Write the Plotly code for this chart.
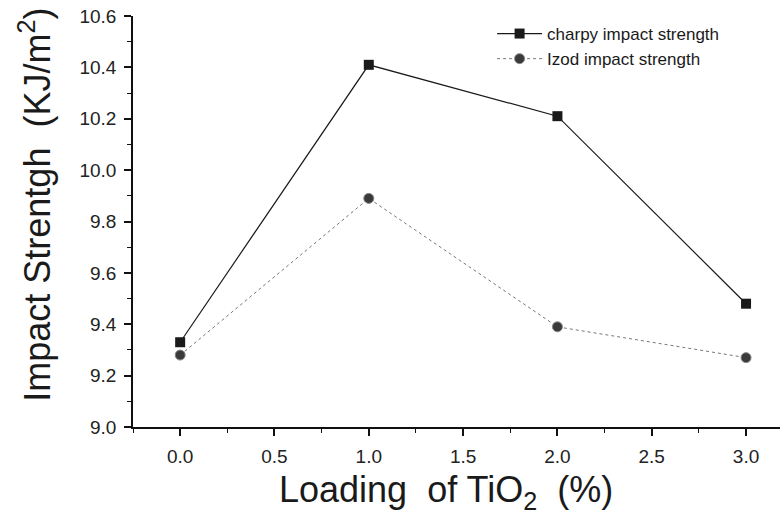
import plotly.graph_objects as go

loading = [0.0, 1.0, 2.0, 3.0]
charpy = [9.33, 10.41, 10.21, 9.48]
izod = [9.28, 9.89, 9.39, 9.27]
x_ticks = [0.0, 0.5, 1.0, 1.5, 2.0, 2.5, 3.0]
y_ticks = [9.0, 9.2, 9.4, 9.6, 9.8, 10.0, 10.2, 10.4, 10.6]

FONT = "Liberation Sans, Arial, sans-serif"

fig = go.Figure()
fig.add_trace(go.Scatter(
    x=loading, y=charpy, mode="lines+markers", name="charpy impact strength",
    line=dict(color="#1a1a1a", width=1.2),
    marker=dict(symbol="square", size=10, color="#1a1a1a"),
))
fig.add_trace(go.Scatter(
    x=loading, y=izod, mode="lines+markers", name="Izod impact strength",
    line=dict(color="#777777", width=1, dash="dot"),
    marker=dict(symbol="circle", size=10, color="#3a3a3a",
                line=dict(color="#888888", width=1)),
))

axis_common = dict(
    showgrid=False, zeroline=False, showline=True, linecolor="#111111", linewidth=1.5,
    ticks="outside", ticklen=7, tickwidth=1.5, tickcolor="#111111",
    tickfont=dict(family=FONT, size=19, color="#222222"),
    mirror=False,
)

fig.update_xaxes(
    range=[-0.25, 3.18], tickvals=x_ticks, ticktext=[f"{v:.1f}" for v in x_ticks],
    minor=dict(dtick=0.25, tick0=0, ticks="outside", ticklen=4, tickcolor="#111111", tickwidth=1.2),
    ticklabelstandoff=4,
    **axis_common,
)
fig.update_yaxes(
    range=[9.0, 10.6], tickvals=y_ticks, ticktext=[f"{v:.1f}" for v in y_ticks],
    minor=dict(dtick=0.1, tick0=9.0, ticks="outside", ticklen=4, tickcolor="#111111", tickwidth=1.2),
    ticklabelstandoff=4,
    **axis_common,
)

fig.add_annotation(
    text="Loading  of TiO<sub>2</sub>  (%)", xref="paper", yref="paper",
    x=0.484, y=-0.158, xanchor="center", yanchor="middle", showarrow=False,
    font=dict(family=FONT, size=36, color="#1a1a1a"),
)
fig.add_annotation(
    text="Impact Strentgh  (KJ/m<sup>2</sup>)", xref="paper", yref="paper",
    x=-0.152, y=0.54, xanchor="center", yanchor="middle", textangle=-90, showarrow=False,
    font=dict(family=FONT, size=36, color="#1a1a1a"),
)

fig.update_layout(
    width=780, height=519,
    margin=dict(l=133, r=0, t=16, b=92),
    paper_bgcolor="white", plot_bgcolor="white",
    showlegend=True,
    legend=dict(x=0.555, y=1.0, xanchor="left", yanchor="top",
                font=dict(family=FONT, size=17, color="#1a1a1a"),
                bgcolor="rgba(0,0,0,0)", tracegroupgap=0, itemwidth=45),
)

fig.write_html("out.html")
